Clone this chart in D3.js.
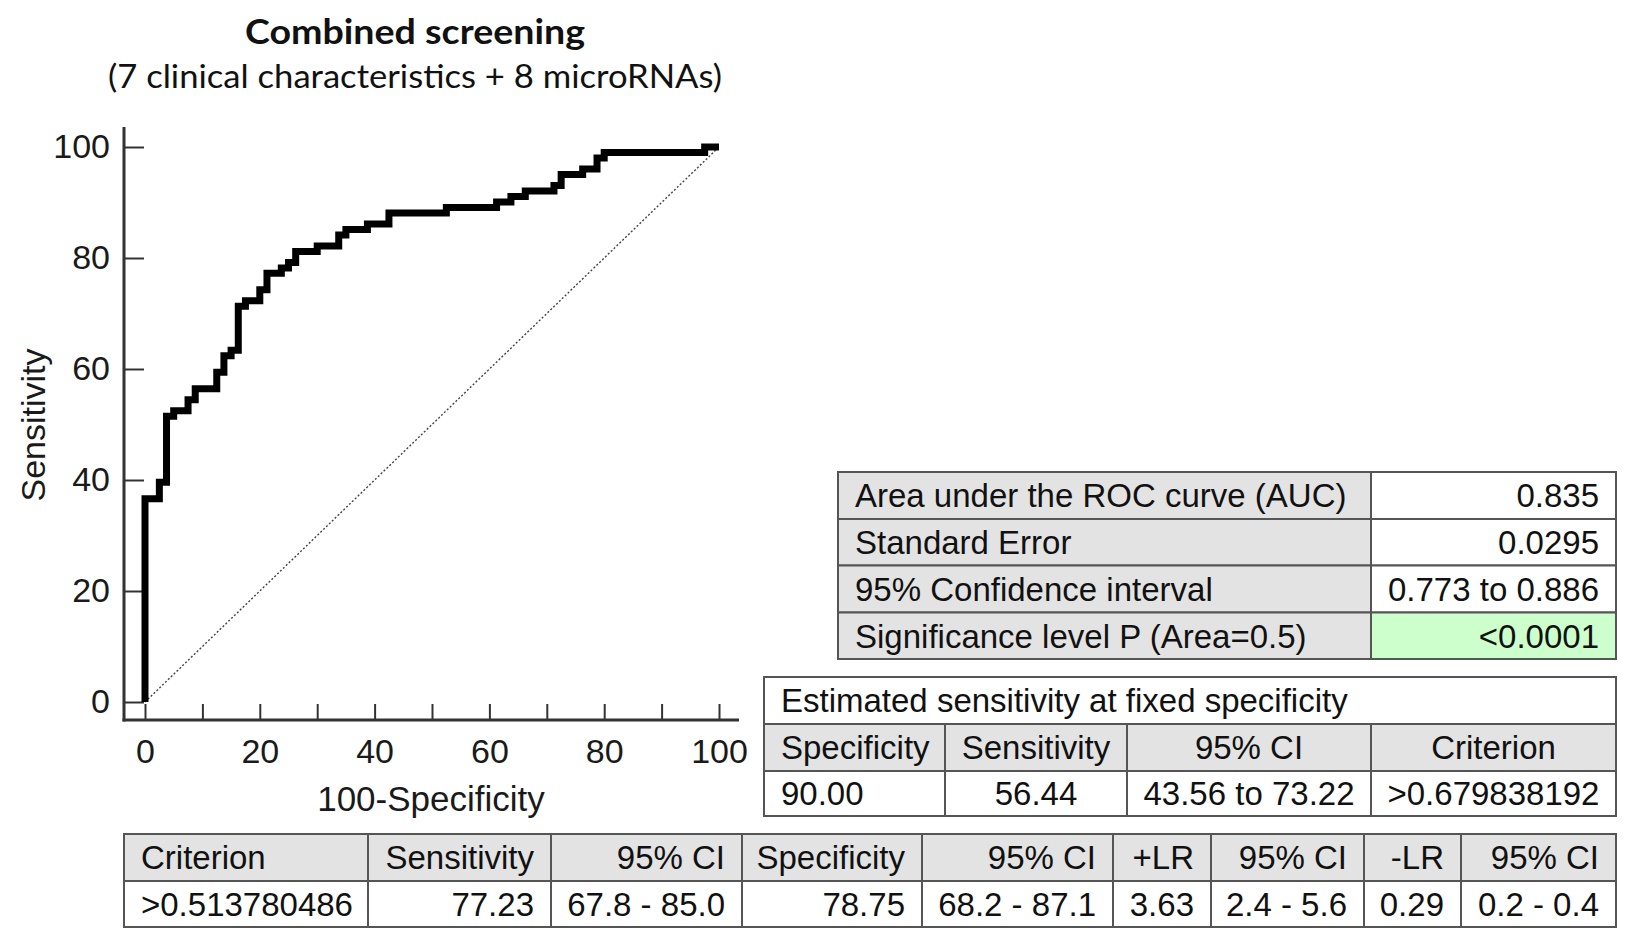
<!DOCTYPE html>
<html><head><meta charset="utf-8">
<script src="https://cdn.jsdelivr.net/npm/d3@7"></script>
<style>
html,body{margin:0;padding:0;background:#fff;}
svg{display:block;}
</style></head>
<body>
<svg id="chart" width="1645" height="950"></svg>
<script>
// ---------------- data ----------------
const titleText = "Combined screening";
const subtitleText = "(7 clinical characteristics + 8 microRNAs)";
const xAxisTitle = "100-Specificity";
const yAxisTitle = "Sensitivity";
const xTickMarks = [0, 10, 20, 30, 40, 50, 60, 70, 80, 90, 100];
const xTickLabels = [0, 20, 40, 60, 80, 100];
const yTickLabels = [0, 20, 40, 60, 80, 100];

// ROC points (100-Specificity, Sensitivity)
const fprValues  = [0, 0, 2.5, 3.75, 5, 7.5, 8.75, 12.5, 13.75, 15,
                    16.25, 17.5, 20, 21.25, 23.75, 25, 26.25, 30, 33.75, 35,
                    38.75, 42.5, 52.5, 61.25, 63.75, 66.25, 71.25, 72.5, 76.25, 78.75,
                    80, 97.5, 100];
const sensValues = [0, 36.63, 39.60, 51.49, 52.48, 54.46, 56.44, 59.41, 62.38, 63.37,
                    71.29, 72.28, 74.26, 77.23, 78.22, 79.21, 81.19, 82.18, 84.16, 85.15,
                    86.14, 88.12, 89.11, 90.10, 91.09, 92.08, 93.07, 95.05, 96.04, 98.02,
                    99.01, 100, 100];

const aucLabels = ["Area under the ROC curve (AUC)", "Standard Error", "95% Confidence interval", "Significance level P (Area=0.5)"];
const aucValues = ["0.835", "0.0295", "0.773 to 0.886", "<0.0001"];

const fixedSpecTitle = "Estimated sensitivity at fixed specificity";
const fixedSpecHeaders = ["Specificity", "Sensitivity", "95% CI", "Criterion"];
const fixedSpecValues = ["90.00", "56.44", "43.56 to 73.22", ">0.679838192"];

const criterionHeaders = ["Criterion", "Sensitivity", "95% CI", "Specificity", "95% CI", "+LR", "95% CI", "-LR", "95% CI"];
const criterionValues = [">0.513780486", "77.23", "67.8 - 85.0", "78.75", "68.2 - 87.1", "3.63", "2.4 - 5.6", "0.29", "0.2 - 0.4"];

// ---------------- drawing ----------------
const svg = d3.select("#chart");
const SANS = "'Liberation Sans', Arial, Helvetica, sans-serif";
const TITLEF = "Lato, 'Open Sans', sans-serif";

// titles
svg.append("text").attr("x", 415).attr("y", 44)
  .attr("text-anchor", "middle").attr("font-family", TITLEF).attr("font-weight", "bold")
  .attr("font-size", 34).attr("fill", "#111")
  .attr("textLength", 340).attr("lengthAdjust", "spacingAndGlyphs")
  .text(titleText);
svg.append("text").attr("x", 415).attr("y", 88)
  .attr("text-anchor", "middle").attr("font-family", TITLEF)
  .attr("font-size", 32).attr("fill", "#111")
  .attr("textLength", 614).attr("lengthAdjust", "spacingAndGlyphs")
  .text(subtitleText);

// scales
const x = d3.scaleLinear().domain([0, 100]).range([145, 719]);
const y = d3.scaleLinear().domain([0, 100]).range([702, 147]);

// axis lines (offset frame)
svg.append("line").attr("x1", 124).attr("x2", 124).attr("y1", 127).attr("y2", 721.5)
  .attr("stroke", "#333").attr("stroke-width", 3);
svg.append("line").attr("x1", 122.5).attr("x2", 739).attr("y1", 720).attr("y2", 720)
  .attr("stroke", "#333").attr("stroke-width", 3);

// x axis
const xAxis = d3.axisBottom(x)
  .tickValues(xTickMarks)
  .tickSize(-16)
  .tickPadding(19)
  .tickFormat(d => xTickLabels.includes(d) ? d : "");
const gx = svg.append("g").attr("transform", "translate(0,720)").call(xAxis);
gx.select(".domain").remove();
gx.selectAll(".tick line").attr("stroke", "#333").attr("stroke-width", 2);
gx.selectAll(".tick text").attr("font-family", SANS).attr("font-size", 34).attr("fill", "#1a1a1a");

// y axis
const yAxis = d3.axisLeft(y)
  .tickValues(yTickLabels)
  .tickSize(-20)
  .tickPadding(14);
const gy = svg.append("g").attr("transform", "translate(124,0)").call(yAxis);
gy.select(".domain").remove();
gy.selectAll(".tick line").attr("stroke", "#333").attr("stroke-width", 2);
gy.selectAll(".tick text").attr("font-family", SANS).attr("font-size", 34).attr("fill", "#1a1a1a");

// axis titles
svg.append("text").attr("x", 431).attr("y", 811)
  .attr("text-anchor", "middle").attr("font-family", SANS).attr("font-size", 35).attr("fill", "#1a1a1a")
  .text(xAxisTitle);
svg.append("text").attr("transform", "translate(45,425) rotate(-90)")
  .attr("text-anchor", "middle").attr("font-family", SANS).attr("font-size", 34).attr("fill", "#1a1a1a")
  .text(yAxisTitle);

// diagonal reference line
svg.append("path")
  .datum([[0, 0], [100, 100]])
  .attr("d", d3.line().x(d => x(d[0])).y(d => y(d[1])))
  .attr("fill", "none").attr("stroke", "#444").attr("stroke-width", 1.4)
  .attr("stroke-dasharray", "2,2");

// ROC curve
const rocPoints = fprValues.map((f, i) => ({ f, s: sensValues[i] }));
svg.append("path")
  .datum(rocPoints)
  .attr("d", d3.line().x(d => x(d.f)).y(d => y(d.s)).curve(d3.curveStepAfter))
  .attr("fill", "none").attr("stroke", "#000").attr("stroke-width", 7)
  .attr("stroke-linejoin", "miter");

// ---------------- tables ----------------
const GRAY = "#e3e3e3", GREEN = "#ccffcc", BORDER = "#555";
const FS = 33, PAD = 17;

function drawTable(cells) {
  const g = svg.append("g");
  const cg = g.selectAll("g.cell").data(cells).join("g").attr("class", "cell");
  cg.append("rect")
    .attr("x", d => d.x0).attr("y", d => d.y0)
    .attr("width", d => d.x1 - d.x0).attr("height", d => d.y1 - d.y0)
    .attr("fill", d => d.fill).attr("stroke", BORDER).attr("stroke-width", 2);
  cg.append("text")
    .attr("x", d => d.align === "start" ? d.x0 + PAD : d.align === "end" ? d.x1 - PAD : (d.x0 + d.x1) / 2)
    .attr("y", d => (d.y0 + d.y1) / 2 + FS * 0.36)
    .attr("text-anchor", d => d.align)
    .attr("font-family", SANS).attr("font-size", FS).attr("fill", "#111")
    .text(d => d.text);
  return g;
}

// table 1: AUC
const t1Cols = [838, 1371, 1616];
const t1Rows = [472, 519, 565.5, 612.5, 659];
const t1Cells = [];
aucLabels.forEach((lab, i) => {
  t1Cells.push({ x0: t1Cols[0], x1: t1Cols[1], y0: t1Rows[i], y1: t1Rows[i + 1], text: lab, fill: GRAY, align: "start" });
  t1Cells.push({ x0: t1Cols[1], x1: t1Cols[2], y0: t1Rows[i], y1: t1Rows[i + 1], text: aucValues[i],
                 fill: i === aucLabels.length - 1 ? GREEN : "#fff", align: "end" });
});
drawTable(t1Cells);

// table 2: fixed specificity
const t2Cols = [764, 945, 1127, 1371, 1616];
const t2Rows = [677, 724, 771, 816];
const t2Cells = [{ x0: t2Cols[0], x1: t2Cols[4], y0: t2Rows[0], y1: t2Rows[1], text: fixedSpecTitle, fill: "#fff", align: "start" }];
fixedSpecHeaders.forEach((h, i) => {
  t2Cells.push({ x0: t2Cols[i], x1: t2Cols[i + 1], y0: t2Rows[1], y1: t2Rows[2], text: h, fill: GRAY, align: i === 0 ? "start" : "middle" });
});
fixedSpecValues.forEach((v, i) => {
  t2Cells.push({ x0: t2Cols[i], x1: t2Cols[i + 1], y0: t2Rows[2], y1: t2Rows[3], text: v, fill: "#fff", align: i === 0 ? "start" : "middle" });
});
drawTable(t2Cells);

// table 3: criterion
const t3Cols = [124, 368, 551, 742, 922, 1113, 1211, 1364, 1461, 1616];
const t3Rows = [834, 881, 927];
const t3Cells = [];
criterionHeaders.forEach((h, i) => {
  t3Cells.push({ x0: t3Cols[i], x1: t3Cols[i + 1], y0: t3Rows[0], y1: t3Rows[1], text: h, fill: GRAY, align: i === 0 ? "start" : "end" });
});
criterionValues.forEach((v, i) => {
  t3Cells.push({ x0: t3Cols[i], x1: t3Cols[i + 1], y0: t3Rows[1], y1: t3Rows[2], text: v, fill: "#fff", align: i === 0 ? "start" : "end" });
});
drawTable(t3Cells);
</script>
</body></html>
